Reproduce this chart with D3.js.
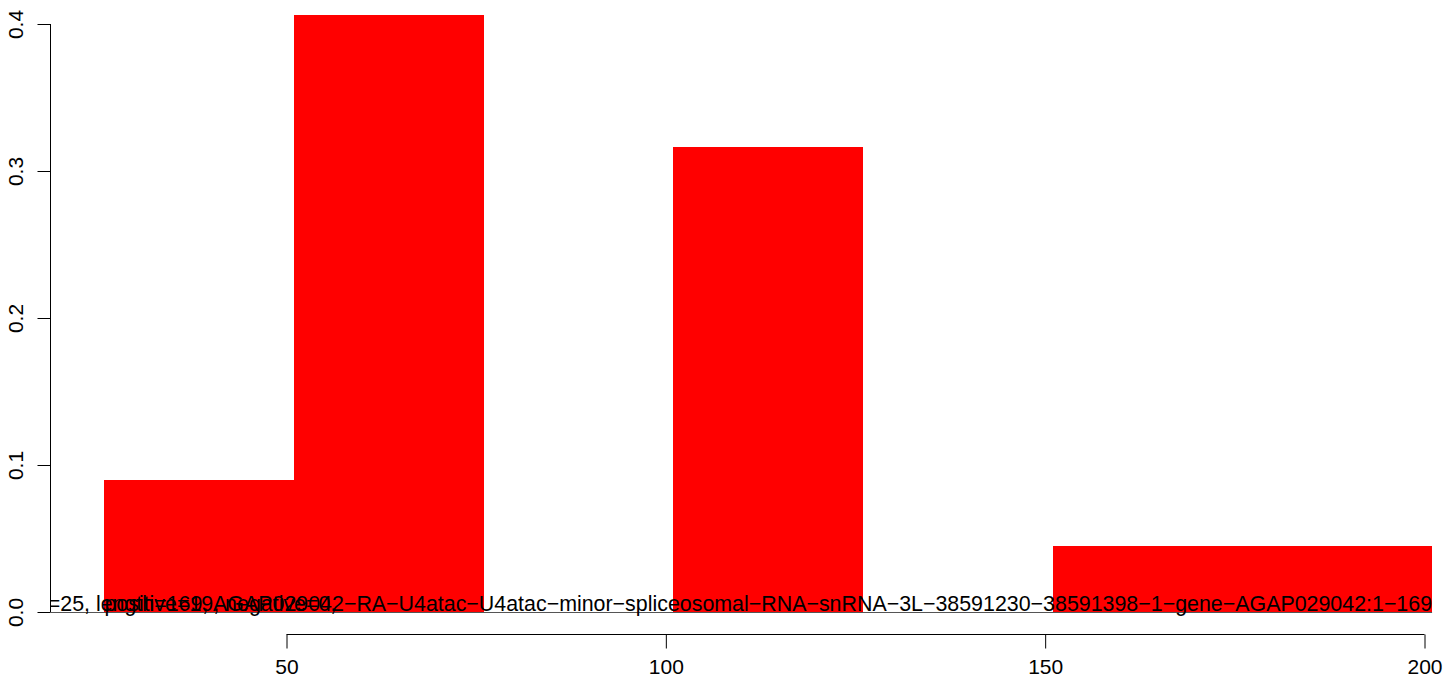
<!DOCTYPE html>
<html><head><meta charset="utf-8">
<script src="https://cdn.jsdelivr.net/npm/d3@7"></script>
<style>body{margin:0;background:#fff;}svg{display:block;}</style>
</head><body>
<script>
const binStarts = [26, 51, 76, 101, 126, 151, 176];
const binEnds   = [51, 76, 101, 126, 151, 176, 201];
const densities = [0.09, 0.406, 0, 0.316, 0, 0.045, 0.045];
const xTicks = [50, 100, 150, 200];
const yTicks = [0, 0.1, 0.2, 0.3, 0.4];
const labelRight = "n=25, length=169, AGAP029042\u2212RA\u2212U4atac\u2212U4atac\u2212minor\u2212spliceosomal\u2212RNA\u2212snRNA\u22123L\u221238591230\u221238591398\u22121\u2212gene\u2212AGAP029042:1\u2212169";
const labelLeft = "positive=19, negative=0,";

const W = 1444, H = 687;
const FS = 21;
const FS_NOTE = 21.4;
const FONT = "'Liberation Sans', Arial, Helvetica, sans-serif";
const svg = d3.select("body").append("svg").attr("width", W).attr("height", H)
  .style("font-family", FONT);

const x = d3.scaleLinear().domain([50, 200]).range([286.5, 1424.5]);
const y = d3.scaleLinear().domain([0, 0.4]).range([612, 24]);

svg.append("defs").append("clipPath").attr("id", "plotclip")
  .append("rect").attr("x", 50.5).attr("y", 0).attr("width", W - 50.5).attr("height", H);

const plot = svg.append("g").attr("clip-path", "url(#plotclip)");

plot.selectAll("rect.bar").data(densities).join("rect").attr("class", "bar")
  .attr("x", (d, i) => x(binStarts[i]))
  .attr("width", (d, i) => x(binEnds[i]) - x(binStarts[i]))
  .attr("y", d => y(d))
  .attr("height", d => y(0) - y(d))
  .attr("fill", "#ff0000")
  .attr("shape-rendering", "crispEdges");

// baseline
plot.append("line")
  .attr("x1", x(10)).attr("x2", x(binEnds[binEnds.length - 1]))
  .attr("y1", y(0) + 0.5).attr("y2", y(0) + 0.5)
  .attr("stroke", "#555").attr("stroke-width", 1);

plot.append("text")
  .attr("x", x(binEnds[binEnds.length - 1])).attr("y", y(0) - 1)
  .attr("text-anchor", "end").attr("font-size", FS_NOTE).attr("fill", "#000")
  .text(labelRight);
plot.append("text")
  .attr("x", x(binStarts[0])).attr("y", y(0) - 1)
  .attr("text-anchor", "start").attr("font-size", FS_NOTE).attr("fill", "#000")
  .text(labelLeft);

// y axis
const yAxis = d3.axisLeft(y).tickValues(yTicks).tickSize(13).tickPadding(0)
  .tickFormat(d3.format(".1f"));
const gy = svg.append("g").attr("transform", "translate(50.5,0)").call(yAxis);
gy.attr("font-family", FONT).attr("font-size", FS);
gy.select(".domain").attr("d", `M0,${y(0)}V${y(0.4)}`).attr("stroke", "#000");
gy.selectAll(".tick line").attr("stroke", "#000");
gy.selectAll(".tick text")
  .attr("transform", "rotate(-90)")
  .attr("x", 0).attr("dy", 0).attr("y", -28)
  .attr("text-anchor", "middle")
  .attr("fill", "#000");

// x axis
const xAxis = d3.axisBottom(x).tickValues(xTicks).tickSize(14).tickPadding(10)
  .tickFormat(d3.format("d"));
const gx = svg.append("g").attr("transform", "translate(0,634.5)").call(xAxis);
gx.attr("font-family", FONT).attr("font-size", FS);
gx.select(".domain").attr("d", `M${x(50)},0H${x(200)}`).attr("stroke", "#000");
gx.selectAll(".tick line").attr("stroke", "#000");
gx.selectAll(".tick text").attr("fill", "#000").attr("dy", 0).attr("y", 39);
svg.selectAll(".domain, .tick line").attr("stroke-width", 1);
</script>
</body></html>
